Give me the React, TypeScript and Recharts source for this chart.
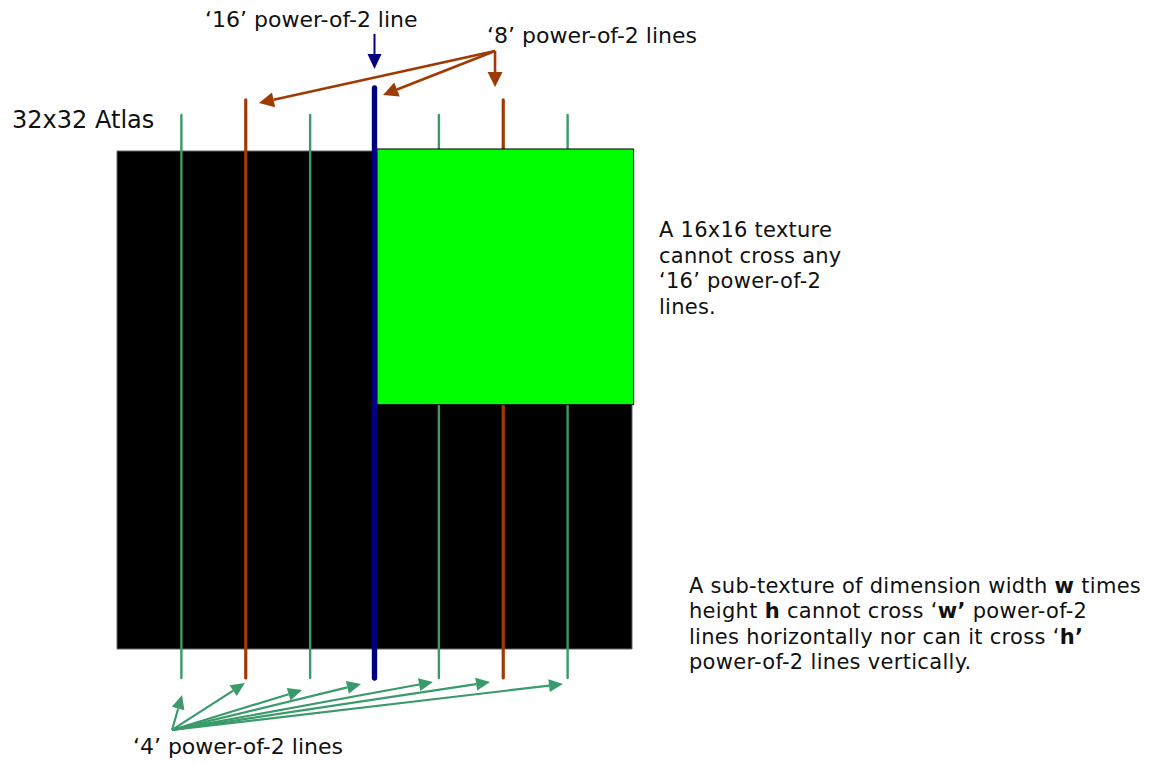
import React from 'react';
import { ComposedChart, XAxis, YAxis, ReferenceArea, ReferenceLine, ReferenceDot } from 'recharts';

// Coordinate system: atlas units. x 0..32 across the atlas, y 0..32 down the atlas.
const X_DOMAIN = [-7.27, 64.497];
const Y_DOMAIN = [-9.703, 39.325];

// rectangles: [x1, x2, y1, y2]
const ATLAS = [0, 32, 0, 32];
const TEXTURE = [16.15, 32.1, -0.13, 16.3];

// power-of-2 line positions
const LINES_4 = [4, 12, 20, 28];
const LINES_8 = [8, 24];
const LINES_16 = [16];
const TOP_4 = -2.31;
const TOP_8 = -3.28;
const TOP_16 = -4.05;
const LINE_BOTTOM = 33.86;

// arrows: origin and tips
const ARROW16_FROM = [16, -7.52];
const ARROW16_TO = [[16, -5.27]];
const ARROW8_FROM = [23.49, -6.43];
const ARROW8_TO = [[8.82, -3.08], [16.53, -3.6], [23.49, -4.11]];
const ARROW4_FROM = [3.42, 37.2];
const ARROW4_TO = [[4.04, 34.96], [7.95, 34.19], [11.5, 34.64], [15.16, 34.25], [19.63, 34.12], [23.18, 34.12], [27.71, 34.25]];

// text labels: [x, y(baseline)]
const LABEL16_POS = [5.47, -7.97];
const LABEL16_TEXT = '‘16’ power-of-2 line';
const LABEL8_POS = [22.99, -6.94];
const LABEL8_TEXT = '‘8’ power-of-2 lines';
const LABEL4_POS = [0.99, 38.75];
const LABEL4_TEXT = '‘4’ power-of-2 lines';
const TITLE_POS = [-6.52, -1.48];
const TITLE_TEXT = '32x32 Atlas';
const NOTE1_POS = [33.68, 5.53];
const NOTE1_LINES: [string, boolean][][] = [
  [['A 16x16 texture', false]],
  [['cannot cross any', false]],
  [['‘16’ power-of-2', false]],
  [['lines.', false]],
];
const NOTE2_POS = [35.54, 28.4];
const NOTE2_LINES: [string, boolean][][] = [
  [['A sub-texture of dimension width ', false], ['w', true], [' times', false]],
  [['height ', false], ['h', true], [' cannot cross ‘', false], ['w’', true], [' power-of-2', false]],
  [['lines horizontally nor can it cross ‘', false], ['h’', true]],
  [['power-of-2 lines vertically.', false]],
];

const C_GREEN = '#3A9A6A';
const C_ORANGE = '#A03A05';
const C_BLUE = '#000080';
const FONT = '"DejaVu Sans", Verdana, sans-serif';

function arrowShape(color: string, width: number, headLen: number, headHalf: number) {
  return (props: any) => {
    const { x1, y1, x2, y2 } = props;
    if ([x1, y1, x2, y2].some((v) => typeof v !== 'number' || isNaN(v))) return <g />;
    const ang = Math.atan2(y2 - y1, x2 - x1);
    const bx = x2 - headLen * Math.cos(ang);
    const by = y2 - headLen * Math.sin(ang);
    const px = -Math.sin(ang) * headHalf;
    const py = Math.cos(ang) * headHalf;
    return (
      <g>
        <line x1={x1} y1={y1} x2={bx} y2={by} stroke={color} strokeWidth={width} />
        <polygon points={`${x2},${y2} ${bx + px},${by + py} ${bx - px},${by - py}`} fill={color} />
      </g>
    );
  };
}

function textShape(lines: [string, boolean][][], size: number, lineHeight: number, spacing: number) {
  return (props: any) => {
    const { cx, cy } = props;
    return (
      <text x={cx} y={cy} fontFamily={FONT} fontSize={size} letterSpacing={spacing} fill="#111" textAnchor="start">
        {lines.map((segs, i) => (
          <tspan key={i} x={cx} y={cy + i * lineHeight}>
            {segs.map(([t, b], j) => (
              <tspan key={j} fontWeight={b ? 'bold' : 'normal'}>{t}</tspan>
            ))}
          </tspan>
        ))}
      </text>
    );
  };
}

export default function App() {
  let z = 0;
  const vline = (x: number, top: number, color: string, w: number, key: string) => (
    <ReferenceLine
      key={key}
      segment={[{ x, y: top }, { x, y: LINE_BOTTOM }]}
      stroke={color}
      strokeWidth={w}
      strokeLinecap="round"
      ifOverflow="visible"
      zIndex={++z}
    />
  );
  const arrows = (from: number[], tos: number[][], color: string, w: number, hl: number, hh: number, key: string) =>
    tos.map((t, i) => (
      <ReferenceLine
        key={key + i}
        segment={[{ x: from[0], y: from[1] }, { x: t[0], y: t[1] }]}
        ifOverflow="visible"
        shape={arrowShape(color, w, hl, hh)}
        zIndex={++z}
      />
    ));
  const label = (pos: number[], lines: [string, boolean][][], size: number, lh: number, sp: number, key: string) => (
    <ReferenceDot key={key} x={pos[0]} y={pos[1]} r={0} ifOverflow="visible" shape={textShape(lines, size, lh, sp)} zIndex={++z} />
  );

  return (
    <div>
      <style>{'body{margin:0;background:#fff}'}</style>
      <ComposedChart width={1155} height={763} margin={{ top: 0, right: 0, bottom: 0, left: 0 }}>
        <XAxis type="number" dataKey="x" domain={X_DOMAIN} allowDataOverflow hide />
        <YAxis type="number" dataKey="y" domain={Y_DOMAIN} allowDataOverflow reversed hide />
        <ReferenceArea
          x1={ATLAS[0]}
          x2={ATLAS[1]}
          y1={ATLAS[2]}
          y2={ATLAS[3]}
          fill="#000"
          fillOpacity={1}
          stroke="#666"
          strokeWidth={1}
          ifOverflow="visible"
          zIndex={++z}
        />
        {LINES_4.map((x) => vline(x, TOP_4, C_GREEN, 2.4, 'g' + x))}
        {LINES_8.map((x) => vline(x, TOP_8, C_ORANGE, 3.2, 'o' + x))}
        <ReferenceArea
          x1={TEXTURE[0]}
          x2={TEXTURE[1]}
          y1={TEXTURE[2]}
          y2={TEXTURE[3]}
          fill="#00FF00"
          fillOpacity={1}
          stroke="#000"
          strokeWidth={1}
          ifOverflow="visible"
          zIndex={++z}
        />
        {LINES_16.map((x) => vline(x, TOP_16, C_BLUE, 5.4, 'b' + x))}
        {arrows(ARROW16_FROM, ARROW16_TO, C_BLUE, 2, 15, 7, 'a16')}
        {arrows(ARROW8_FROM, ARROW8_TO, C_ORANGE, 2.6, 15, 7.5, 'a8')}
        {arrows(ARROW4_FROM, ARROW4_TO, C_GREEN, 2.2, 14, 6.5, 'a4')}
        {label(LABEL16_POS, [[[LABEL16_TEXT, false]]], 22, 0, 0, 'l16')}
        {label(LABEL8_POS, [[[LABEL8_TEXT, false]]], 22, 0, 0, 'l8')}
        {label(LABEL4_POS, [[[LABEL4_TEXT, false]]], 22, 0, 0, 'l4')}
        {label(TITLE_POS, [[[TITLE_TEXT, false]]], 24, 0, 0, 'title')}
        {label(NOTE1_POS, NOTE1_LINES, 21, 25.7, 0.25, 'n1')}
        {label(NOTE2_POS, NOTE2_LINES, 21, 25.3, 0.3, 'n2')}
      </ComposedChart>
    </div>
  );
}
